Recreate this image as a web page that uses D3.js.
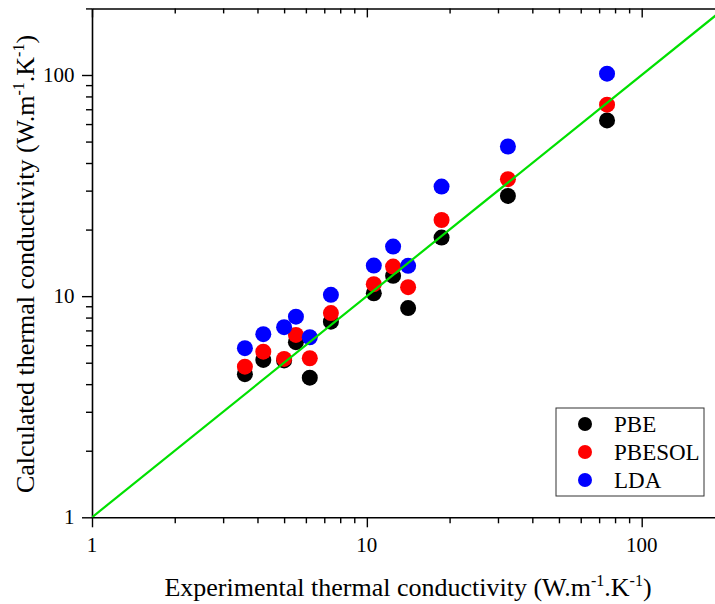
<!DOCTYPE html>
<html>
<head>
<meta charset="utf-8">
<script src="https://cdn.jsdelivr.net/npm/d3@7"></script>
<style>
  html, body { margin: 0; padding: 0; background: #fff; }
  svg { display: block; }
  text { font-family: "Liberation Serif", "Times New Roman", serif; fill: #000; }
</style>
</head>
<body>
<svg id="chart" width="715" height="604" font-family="Liberation Serif, Times New Roman, serif"></svg>
<script>
// ---- data ----
const experimental = [3.60, 4.20, 5.00, 5.52, 6.20, 7.40, 10.6, 12.46, 14.13, 18.7, 32.6, 74.8];
const pbe    = [4.44, 5.15, 5.12, 6.19, 4.28, 7.67, 10.3, 12.36, 8.83, 18.4, 28.4, 62.3];
const pbesol = [4.80, 5.61, 5.20, 6.68, 5.24, 8.38, 11.33, 13.61, 10.98, 22.1, 33.8, 73.4];
const lda    = [5.82, 6.73, 7.24, 8.08, 6.52, 10.14, 13.75, 16.76, 13.71, 31.3, 47.5, 101.4];
const seriesNames = ["PBE", "PBESOL", "LDA"];
const seriesColors = ["#000000", "#ff0000", "#0000ff"];
const majorTicks = [1, 10, 100];
const majorTickLabels = ["1", "10", "100"];
const axisDomain = [1, 200];
const idealLine = [1, 200];

(function () {
// ---- layout ----
const svg = d3.select("#chart");
const pLeft = 92, pBottom = 517.3;
const xDecade = 274.85, yDecade = 221.15;
const pRight = pLeft + xDecade * Math.log10(axisDomain[1]);
const pTop = pBottom - yDecade * Math.log10(axisDomain[1]);

const x = d3.scaleLog().domain(axisDomain).range([pLeft, pRight]);
const y = d3.scaleLog().domain(axisDomain).range([pBottom, pTop]);

const minorTicks = [];
for (const d of [1, 10, 100]) for (let k = 2; k <= 9; k++) if (d * k <= axisDomain[1]) minorTicks.push(d * k);

// clip
svg.append("defs").append("clipPath").attr("id", "clip")
  .append("rect").attr("x", pLeft).attr("y", pTop).attr("width", pRight - pLeft).attr("height", pBottom - pTop);

function styleAxis(g) {
  g.select(".domain").attr("stroke", "#000").attr("stroke-width", 1.6);
  g.selectAll(".tick line").attr("stroke", "#000").attr("stroke-width", 1.4);
}
function styleMinor(g) {
  g.select(".domain").remove();
  g.selectAll(".tick line").attr("stroke", "#000").attr("stroke-width", 1.4);
}

// bottom axis (outward ticks)
svg.append("g").attr("transform", `translate(0,${pBottom})`)
  .call(d3.axisBottom(x).tickValues(majorTicks).tickSize(10).tickSizeOuter(0).tickFormat(""))
  .call(styleAxis);
svg.append("g").attr("transform", `translate(0,${pBottom})`)
  .call(d3.axisBottom(x).tickValues(minorTicks).tickSize(6).tickSizeOuter(0).tickFormat(""))
  .call(styleMinor);

// top axis (inward ticks)
svg.append("g").attr("transform", `translate(0,${pTop})`)
  .call(d3.axisBottom(x).tickValues(majorTicks).tickSize(9).tickSizeOuter(0).tickFormat(""))
  .call(styleAxis);
svg.append("g").attr("transform", `translate(0,${pTop})`)
  .call(d3.axisBottom(x).tickValues(minorTicks).tickSize(5).tickSizeOuter(0).tickFormat(""))
  .call(styleMinor);

// left axis (outward ticks)
svg.append("g").attr("transform", `translate(${pLeft},0)`)
  .call(d3.axisLeft(y).tickValues(majorTicks).tickSize(10).tickSizeOuter(0).tickFormat(""))
  .call(styleAxis);
svg.append("g").attr("transform", `translate(${pLeft},0)`)
  .call(d3.axisLeft(y).tickValues(minorTicks).tickSize(6).tickSizeOuter(0).tickFormat(""))
  .call(styleMinor);

// right axis (inward ticks)
svg.append("g").attr("transform", `translate(${pRight},0)`)
  .call(d3.axisLeft(y).tickValues(majorTicks).tickSize(-12).tickSizeOuter(0).tickFormat(""))
  .call(styleAxis);
svg.append("g").attr("transform", `translate(${pRight},0)`)
  .call(d3.axisLeft(y).tickValues(minorTicks).tickSize(-6).tickSizeOuter(0).tickFormat(""))
  .call(styleMinor);

// tick labels
svg.append("g").selectAll("text").data(majorTicks).join("text")
  .attr("x", d => x(d)).attr("y", 552)
  .attr("text-anchor", "middle").attr("font-size", 21)
  .text((d, i) => majorTickLabels[i]);
svg.append("g").selectAll("text").data(majorTicks).join("text")
  .attr("x", 74.5).attr("y", d => y(d)).attr("dy", "0.33em")
  .attr("text-anchor", "end").attr("font-size", 21)
  .text((d, i) => majorTickLabels[i]);

// points
const plot = svg.append("g").attr("clip-path", "url(#clip)");
const allSeries = [pbe, pbesol, lda];
allSeries.forEach((vals, si) => {
  plot.append("g").selectAll("circle").data(vals).join("circle")
    .attr("cx", (d, i) => x(experimental[i]))
    .attr("cy", d => y(d))
    .attr("r", 8)
    .attr("fill", seriesColors[si]);
});

// ideal y = x line
plot.append("path")
  .datum(idealLine)
  .attr("d", d3.line().x(d => x(d)).y(d => y(d)))
  .attr("stroke", "#00e000").attr("stroke-width", 2.2).attr("fill", "none");

// legend
const lg = svg.append("g");
lg.append("rect").attr("x", 556).attr("y", 408).attr("width", 148).attr("height", 88)
  .attr("fill", "#fff").attr("stroke", "#333").attr("stroke-width", 1);
seriesNames.forEach((name, i) => {
  const cy = 424 + i * 28;
  lg.append("circle").attr("cx", 585).attr("cy", cy).attr("r", 7).attr("fill", seriesColors[i]);
  lg.append("text").attr("x", 614).attr("y", cy).attr("dy", "0.34em").attr("font-size", 23).text(name);
});

// axis titles
function titleWithSup(t) {
  t.append("tspan").text("(W.m");
  t.append("tspan").attr("font-size", 16).attr("dy", -10).text("-1");
  t.append("tspan").attr("dy", 10).text(".K");
  t.append("tspan").attr("font-size", 16).attr("dy", -10).text("-1");
  t.append("tspan").attr("dy", 10).text(")");
}
const xt = svg.append("text").attr("x", 408).attr("y", 596)
  .attr("text-anchor", "middle").attr("font-size", 26);
xt.append("tspan").text("Experimental thermal conductivity ");
titleWithSup(xt);

const yt = svg.append("text").attr("transform", `translate(34,264) rotate(-90)`)
  .attr("text-anchor", "middle").attr("font-size", 26);
yt.append("tspan").text("Calculated thermal conductivity ");
titleWithSup(yt);
})();
</script>
</body>
</html>
